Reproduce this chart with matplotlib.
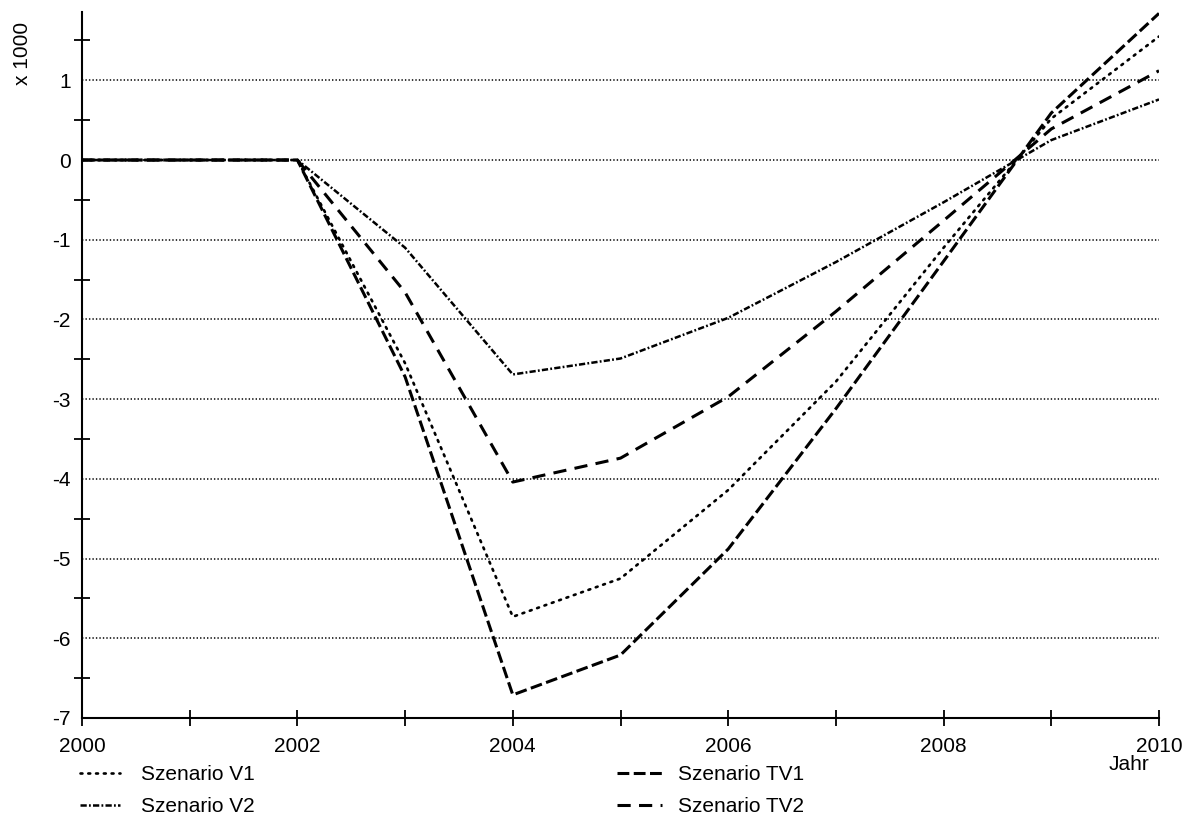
import numpy as np
import matplotlib
matplotlib.use('Agg')
import matplotlib.pyplot as plt
from matplotlib.ticker import MultipleLocator

plt.rcParams['font.family'] = ['Liberation Sans', 'DejaVu Sans']
plt.rcParams['font.size'] = 15
plt.rcParams['lines.scale_dashes'] = False
plt.rcParams['axes.unicode_minus'] = False

# Difference to baseline, in thousands
years = [2000, 2001, 2002, 2003, 2004, 2005, 2006, 2007, 2008, 2009, 2010]
v1 = [0, 0, 0, -2.55, -5.73, -5.25, -4.14, -2.78, -1.1, 0.52, 1.55]
v2 = [0, 0, 0, -1.1, -2.69, -2.49, -1.98, -1.28, -0.53, 0.25, 0.76]
tv1 = [0, 0, 0, -2.72, -6.71, -6.21, -4.88, -3.12, -1.27, 0.59, 1.84]
tv2 = [0, 0, 0, -1.66, -4.04, -3.74, -2.97, -1.9, -0.76, 0.39, 1.12]
labels = ['Szenario V1', 'Szenario V2', 'Szenario TV1', 'Szenario TV2']

fig = plt.figure(figsize=(11.86, 8.26), dpi=100)
ax = fig.add_axes([82/1186, 108/826, (1159-82)/1186, (718-12)/826])

l1, = ax.plot(years, v1, color='black', lw=1.9, linestyle=(0, (1.4, 4.2)), dash_capstyle='round')
l2, = ax.plot(years, v2, color='black', lw=1.8, linestyle=(0, (4.5, 1.6, 1.3, 1.6)))
l3, = ax.plot(years, tv1, color='black', lw=2.2, linestyle=(0, (8.5, 3.2)))
l4, = ax.plot(years, tv2, color='black', lw=2.2, linestyle=(0, (9.5, 6.0)))

ax.set_xlim(2000, 2010)
ax.set_ylim(-7, 1.857)

# dotted horizontal grid at whole thousands
for y in range(-6, 2):
    ax.axhline(y, color='black', lw=1.1, linestyle=(0, (1.0, 1.5)), zorder=0)

ax.spines['top'].set_visible(False)
ax.spines['right'].set_visible(False)
ax.spines['left'].set_linewidth(1.5)
ax.spines['bottom'].set_linewidth(1.5)

ax.set_xticks(range(2000, 2011, 2))
ax.xaxis.set_minor_locator(MultipleLocator(1))
ax.tick_params(axis='x', which='both', direction='inout', length=11, width=1.3, pad=8)
ax.set_yticks(range(-7, 2))
ax.yaxis.set_minor_locator(MultipleLocator(0.5))
ax.tick_params(axis='y', which='major', length=0, pad=8)
ax.tick_params(axis='y', which='minor', direction='inout', length=12, width=1.3)

fig.text(23/1186, 1 - 53/826, 'x 1000', rotation=90, ha='center', va='center')
fig.text(1129/1186, 1 - 764/826, 'Jahr', ha='center', va='center')

leg1 = fig.legend([l1, l2], labels[:2], loc='upper left', bbox_to_anchor=(80/1186, 1 - 765/826),
                  frameon=False, borderpad=0, borderaxespad=0, handlelength=1.9, handletextpad=1.05,
                  labelspacing=0.63)
leg2 = fig.legend([l3, l4], labels[2:], loc='upper left', bbox_to_anchor=(617/1186, 1 - 765/826),
                  frameon=False, borderpad=0, borderaxespad=0, handlelength=2.15, handletextpad=0.78,
                  labelspacing=0.63)

plt.savefig('out.png', dpi=100)
